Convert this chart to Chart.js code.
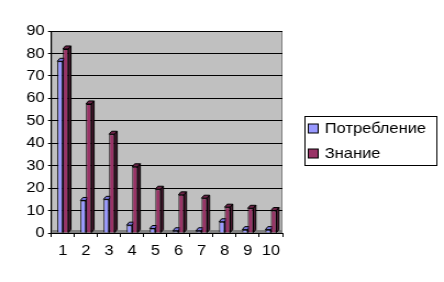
<!DOCTYPE html>
<html>
<head>
<meta charset="utf-8">
<script src="https://cdn.jsdelivr.net/npm/chart.js@4.4.1/dist/chart.umd.min.js"></script>
<style>
html, body { margin: 0; padding: 0; background: #fff; overflow: hidden; }
/* the reference is a little stretched sideways, so draw narrower and scale x */
#wrap { width: 404px; height: 282px; transform: scaleX(1.099); transform-origin: 0 0; }
</style>
</head>
<body>
<div id="wrap"><canvas id="myChart"></canvas></div>
<script>
var categories = ['1','2','3','4','5','6','7','8','9','10'];
var seriesNames = ['Потребление', 'Знание'];
var consumption = [76.5, 14.5, 15, 3.5, 2, 1, 1, 5, 1.5, 1.5];
var knowledge = [82, 57.5, 44, 29.5, 19.5, 17, 15.5, 11.5, 11, 10];
var yMin = 0, yMax = 90, yStep = 10;

var frontColors = ['#9999FF', '#993366'];
var topColors = ['#7777DD', '#6E2449'];
var sideColors = ['#5C5CA8', '#4A1830'];

Chart.defaults.font.family = 'Liberation Sans, Arial, sans-serif';
Chart.defaults.font.size = 15;
Chart.defaults.color = '#000';

// gray wall + floor behind bars
var wall = {
  id: 'wall',
  beforeDraw: function(chart) {
    var a = chart.chartArea, ctx = chart.ctx;
    ctx.save();
    ctx.fillStyle = '#C0C0C0';
    ctx.fillRect(a.left, a.top, a.right - a.left, a.bottom - a.top);
    ctx.fillStyle = '#808080';
    ctx.fillRect(a.left, a.bottom - 3, a.right - a.left, 3);
    ctx.strokeStyle = '#808080';
    ctx.lineWidth = 1;
    ctx.strokeRect(a.left + 0.5, a.top + 0.5, a.right - a.left - 1, a.bottom - a.top);
    ctx.restore();
  }
};

// top and side faces of each bar, drawn before the fronts
var depth = {
  id: 'depth',
  beforeDatasetsDraw: function(chart) {
    var ctx = chart.ctx, dx = 2.3, dy = 3;
    ctx.save();
    ctx.strokeStyle = '#000';
    ctx.lineWidth = 1;
    chart.data.datasets.forEach(function(ds, i) {
      chart.getDatasetMeta(i).data.forEach(function(bar) {
        var p = bar.getProps(['x', 'y', 'base', 'width'], true);
        var l = p.x - p.width / 2, r = p.x + p.width / 2;
        ctx.fillStyle = topColors[i];
        ctx.beginPath();
        ctx.moveTo(l, p.y); ctx.lineTo(l + dx, p.y - dy);
        ctx.lineTo(r + dx, p.y - dy); ctx.lineTo(r, p.y);
        ctx.closePath(); ctx.fill(); ctx.stroke();
        ctx.fillStyle = sideColors[i];
        ctx.beginPath();
        ctx.moveTo(r, p.y); ctx.lineTo(r + dx, p.y - dy);
        ctx.lineTo(r + dx, p.base - dy); ctx.lineTo(r, p.base);
        ctx.closePath(); ctx.fill(); ctx.stroke();
      });
    });
    ctx.restore();
  }
};

// boxed legend to the right of the plot
var legendBox = {
  id: 'legendBox',
  afterDraw: function(chart) {
    var ctx = chart.ctx, a = chart.chartArea;
    var left = a.right + 20, top = 116, w = 120, h = 49;
    ctx.save();
    ctx.fillStyle = '#fff';
    ctx.fillRect(left, top, w, h);
    ctx.strokeStyle = '#000';
    ctx.lineWidth = 1;
    ctx.strokeRect(left + 0.5, top + 0.5, w, h);
    ctx.font = '15px Liberation Sans, Arial, sans-serif';
    ctx.textBaseline = 'middle';
    chart.data.datasets.forEach(function(ds, i) {
      var cy = top + 12.5 + i * 25;
      ctx.fillStyle = frontColors[i];
      ctx.fillRect(left + 3.5, cy - 4.5, 9, 9);
      ctx.strokeRect(left + 3.5, cy - 4.5, 9, 9);
      ctx.fillStyle = '#000';
      ctx.fillText(ds.label, left + 18.5, cy + 0.5);
    });
    ctx.restore();
  }
};

new Chart('myChart', {
  type: 'bar',
  data: {
    labels: categories,
    datasets: [{
      label: seriesNames[0],
      data: consumption,
      backgroundColor: frontColors[0],
      borderColor: '#000',
      borderWidth: 1,
      barPercentage: 1,
      categoryPercentage: 0.48
    }, {
      label: seriesNames[1],
      data: knowledge,
      backgroundColor: frontColors[1],
      borderColor: '#000',
      borderWidth: 1,
      barPercentage: 1,
      categoryPercentage: 0.48
    }]
  },
  plugins: [wall, depth, legendBox],
  options: {
    responsive: true,
    maintainAspectRatio: false,
    animation: false,
    layout: { padding: { left: 21, right: 147, top: 31, bottom: 17 } },
    plugins: {
      legend: { display: false },
      tooltip: { enabled: false }
    },
    scales: {
      x: {
        grid: { drawOnChartArea: false, color: '#000', tickLength: 4 },
        border: { color: '#000' },
        ticks: { padding: 5, maxRotation: 0 }
      },
      y: {
        min: yMin,
        max: yMax,
        grid: { color: '#000', tickLength: 3 },
        border: { color: '#000' },
        ticks: { stepSize: yStep, padding: 3 }
      }
    }
  }
});
</script>
</body>
</html>
